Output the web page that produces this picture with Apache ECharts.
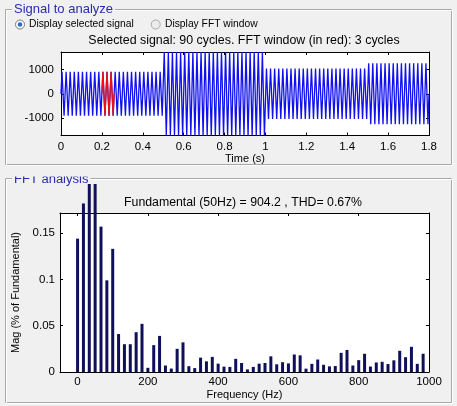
<!DOCTYPE html>
<html>
<head>
<meta charset="utf-8">
<script src="https://cdn.jsdelivr.net/npm/echarts@6/dist/echarts.min.js"></script>
<style>
  html, body { margin: 0; padding: 0; background: #f0f0f0; }
  #chart { width: 457px; height: 406px; }
</style>
</head>
<body>
<div id="chart"></div>
<script>
// ---- signal (top plot) ----
// peak amplitude of each 50 Hz cycle, 90 cycles over 1.8 s
const cycleAmplitude = [
  905, 905, 905, 905, 905, 905, 905, 905, 905, 905,
  905, 905, 905, 905, 905, 905, 905, 905, 905, 905,
  905, 905, 905, 905, 905,
  1720, 1720, 1720, 1720, 1720, 1720, 1720, 1720, 1720, 1720,
  1720, 1720, 1720, 1720, 1720, 1720, 1720, 1720, 1720, 1720,
  1720, 1720, 1720, 1720, 1720,
  1040, 1040, 1040, 1040, 1040, 1040, 1040, 1040, 1040, 1040,
  1040, 1040, 1040, 1040, 1040, 1040, 1040, 1040, 1040, 1040,
  1040, 1040, 1040, 1040, 1040,
  1255, 1255, 1255, 1255, 1255, 1255, 1255, 1255, 1255, 1255,
  1255, 1255, 1255, 1255, 1255
]
const cyclePeriod = 0.02
const fftWindowCycles = [10, 11, 12]   // 0.2 s .. 0.26 s, drawn red
const timeTicks = [0, 0.2, 0.4, 0.6, 0.8, 1, 1.2, 1.4, 1.6, 1.8]
const signalTicks = [-1000, 0, 1000]

// ---- FFT (bottom plot) ----
const freqHz = [
  0, 16.67, 33.33, 50, 66.67, 83.33, 100, 116.67, 133.33, 150,
  166.67, 183.33, 200, 216.67, 233.33, 250, 266.67, 283.33, 300, 316.67,
  333.33, 350, 366.67, 383.33, 400, 416.67, 433.33, 450, 466.67, 483.33,
  500, 516.67, 533.33, 550, 566.67, 583.33, 600, 616.67, 633.33, 650,
  666.67, 683.33, 700, 716.67, 733.33, 750, 766.67, 783.33, 800, 816.67,
  833.33, 850, 866.67, 883.33, 900, 916.67, 933.33, 950, 966.67, 983.33
]
// % of fundamental; 33 Hz and 50 Hz (fundamental = 100) run off the top
const magPct = [
  0.144, 0.182, 0.21, 100, 0.157, 0.099, 0.133, 0.041, 0.030, 0.030,
  0.043, 0.052, 0.0045, 0.029, 0.039, 0.007, 0.0037, 0.025, 0.032, 0.0063,
  0.0042, 0.0155, 0.0115, 0.0163, 0.009, 0.0058, 0.0055, 0.0142, 0.0097, 0.0028,
  0.0055, 0.009, 0.0097, 0.0169, 0.0083, 0.0106, 0.0093, 0.0189, 0.018, 0.0036,
  0.0088, 0.0135, 0.0078, 0.0061, 0.0065, 0.0207, 0.0238, 0.007, 0.0128, 0.0197,
  0.0059, 0.0103, 0.011, 0.0086, 0.0126, 0.0229, 0.016, 0.0272, 0.0088, 0.0197
]
const freqTicks = [0, 200, 400, 600, 800, 1000]
const magTicks = [0, 0.05, 0.1, 0.15]

const FONT = "'Liberation Sans', Arial, sans-serif"
const BG = '#f0f0f0'

function cyclePoints(k) {
  const a = cycleAmplitude[k]
  const t0 = k * cyclePeriod
  return [[t0 + cyclePeriod / 4, a], [t0 + cyclePeriod * 3 / 4, -a]]
}

const blueData = [[0, 0]]
cycleAmplitude.forEach((_, k) => blueData.push(...cyclePoints(k)))
blueData.push([cycleAmplitude.length * cyclePeriod, 0])

const redData = [[fftWindowCycles[0] * cyclePeriod, 0]]
fftWindowCycles.forEach(k => redData.push(...cyclePoints(k)))
redData.push([(fftWindowCycles[fftWindowCycles.length - 1] + 1) * cyclePeriod, 0])

const fftData = freqHz.map((f, i) => [f, magPct[i]])

// bottom plot: axes box 213..372, bars may run up to 184
const fftTop = 213, fftBottom = 372, barTop = 184
const magMax = 0.1717
const magMaxBars = magMax * (fftBottom - barTop) / (fftBottom - fftTop)

const labelStyle = { color: '#000', fontFamily: FONT, fontSize: 11.5, formatter: v => String(v) }
const lineStyle = { color: '#000', width: 1 }

function boxAxis(extra) {
  return Object.assign({
    type: 'value',
    axisLine: { show: true, onZero: false, lineStyle },
    axisTick: { show: true, inside: true, length: 3, lineStyle },
    splitLine: { show: false },
    axisLabel: { show: false }
  }, extra)
}

const chart = echarts.init(document.getElementById('chart'))
chart.setOption({
  backgroundColor: BG,
  animation: false,
  grid: [
    { left: 61, right: 28, top: 52, height: 83.5, show: true, backgroundColor: '#fff', borderWidth: 0 },
    { left: 60, right: 28, top: fftTop, height: fftBottom - fftTop, show: true, backgroundColor: '#fff', borderWidth: 0 },
    { left: 60, right: 28, top: barTop, height: fftBottom - barTop }
  ],
  xAxis: [
    boxAxis({
      gridIndex: 0, position: 'bottom', min: 0, max: 1.8,
      axisTick: { show: true, inside: true, length: 3, lineStyle, customValues: timeTicks },
      axisLabel: Object.assign({ show: true, margin: 5, customValues: timeTicks }, labelStyle),
      name: 'Time (s)', nameLocation: 'middle', nameGap: 17,
      nameTextStyle: { color: '#000', fontFamily: FONT, fontSize: 11 }
    }),
    boxAxis({
      gridIndex: 0, position: 'top', min: 0, max: 1.8,
      axisTick: { show: true, inside: true, length: 3, lineStyle, customValues: timeTicks }
    }),
    boxAxis({
      gridIndex: 1, position: 'bottom', min: -50, max: 1000,
      axisTick: { show: true, inside: true, length: 3, lineStyle, customValues: freqTicks },
      axisLabel: Object.assign({ show: true, margin: 4, customValues: freqTicks }, labelStyle),
      name: 'Frequency (Hz)', nameLocation: 'middle', nameGap: 17,
      nameTextStyle: { color: '#000', fontFamily: FONT, fontSize: 11 }
    }),
    boxAxis({
      gridIndex: 1, position: 'top', min: -50, max: 1000,
      axisTick: { show: true, inside: true, length: 3, lineStyle, customValues: freqTicks }
    }),
    { type: 'value', gridIndex: 2, min: -50, max: 1000, show: false }
  ],
  yAxis: [
    boxAxis({
      gridIndex: 0, position: 'left', min: -1720, max: 1720,
      axisTick: { show: true, inside: true, length: 3, lineStyle, customValues: signalTicks },
      axisLabel: Object.assign({ show: true, margin: 7, customValues: signalTicks }, labelStyle)
    }),
    boxAxis({
      gridIndex: 0, position: 'right', min: -1720, max: 1720,
      axisTick: { show: true, inside: true, length: 3, lineStyle, customValues: signalTicks }
    }),
    boxAxis({
      gridIndex: 1, position: 'left', min: 0, max: magMax,
      axisTick: { show: true, inside: true, length: 3, lineStyle, customValues: magTicks },
      axisLabel: Object.assign({ show: true, margin: 5, customValues: magTicks }, labelStyle),
      name: 'Mag (% of Fundamental)', nameLocation: 'middle', nameGap: 36, nameRotate: 90,
      nameTextStyle: { color: '#000', fontFamily: FONT, fontSize: 11 }
    }),
    boxAxis({
      gridIndex: 1, position: 'right', min: 0, max: magMax,
      axisTick: { show: true, inside: true, length: 3, lineStyle, customValues: magTicks }
    }),
    { type: 'value', gridIndex: 2, min: 0, max: magMaxBars, show: false }
  ],
  series: [
    {
      type: 'line', xAxisIndex: 0, yAxisIndex: 0, data: blueData,
      showSymbol: false, lineStyle: { color: '#1010f0', width: 1.3 }, z: 3
    },
    {
      type: 'line', xAxisIndex: 0, yAxisIndex: 0, data: redData,
      showSymbol: false, lineStyle: { color: '#ee1010', width: 1.3 }, z: 4
    },
    {
      type: 'bar', xAxisIndex: 4, yAxisIndex: 4, data: fftData,
      barWidth: 3, itemStyle: { color: '#10105a' }, z: 5
    }
  ],
  graphic: [
    // panels
    { type: 'rect', shape: { x: 5.5, y: 9.5, width: 446, height: 155 }, style: { fill: null, stroke: '#a8a8a8' }, z: 0 },
    { type: 'rect', shape: { x: 6.5, y: 10.5, width: 446, height: 155 }, style: { fill: null, stroke: '#ffffff' }, z: 0 },
    { type: 'rect', shape: { x: 5.5, y: 178.5, width: 446, height: 224 }, style: { fill: null, stroke: '#a8a8a8' }, z: 0 },
    { type: 'rect', shape: { x: 6.5, y: 179.5, width: 446, height: 224 }, style: { fill: null, stroke: '#ffffff' }, z: 0 },
    {
      type: 'text', x: 12, y: 9, z: 1,
      style: { text: 'Signal to analyze', fill: '#2b2bb0', font: '13px ' + FONT, verticalAlign: 'middle', backgroundColor: BG, padding: [0, 2] }
    },
    {
      type: 'text', x: 12, y: 179, z: 1,
      style: { text: 'FFT analysis', fill: '#2b2bb0', font: '13px ' + FONT, verticalAlign: 'middle', backgroundColor: BG, padding: [0, 2] }
    },
    { type: 'rect', shape: { x: 10, y: 166, width: 90, height: 10.5 }, style: { fill: BG }, z: 2 },
    // radio buttons
    { type: 'circle', shape: { cx: 20, cy: 24.5, r: 4.5 }, style: { fill: '#ffffff', stroke: '#7a7a7a' }, z: 1 },
    { type: 'circle', shape: { cx: 20, cy: 24.5, r: 2.3 }, style: { fill: '#2a6cc6' }, z: 2 },
    { type: 'text', x: 29, y: 24.5, z: 1, style: { text: 'Display selected signal', fill: '#000', font: '10.3px ' + FONT, verticalAlign: 'middle' } },
    { type: 'circle', shape: { cx: 155.7, cy: 24.5, r: 4.5 }, style: { fill: '#ececec', stroke: '#a8a8a8' }, z: 1 },
    { type: 'text', x: 165, y: 24.5, z: 1, style: { text: 'Display FFT window', fill: '#000', font: '10.3px ' + FONT, verticalAlign: 'middle' } },
    // plot titles
    {
      type: 'text', x: 244, y: 41, z: 1,
      style: { text: 'Selected signal: 90 cycles. FFT window (in red): 3 cycles', fill: '#000', font: '12.4px ' + FONT, align: 'center', verticalAlign: 'middle' }
    },
    {
      type: 'text', x: 243, y: 202.5, z: 1,
      style: { text: 'Fundamental (50Hz) = 904.2 , THD= 0.67%', fill: '#000', font: '12.3px ' + FONT, align: 'center', verticalAlign: 'middle' }
    }
  ]
})
</script>
</body>
</html>
